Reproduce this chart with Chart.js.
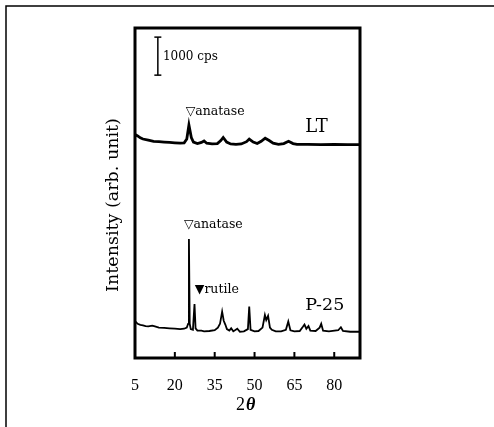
<!DOCTYPE html>
<html>
<head>
<meta charset="utf-8">
<script src="https://cdn.jsdelivr.net/npm/chart.js@4/dist/chart.umd.min.js"></script>
<style>
  html, body { margin: 0; padding: 0; background: #fff; }
  #wrap { width: 494px; height: 427px; }
</style>
</head>
<body>
<div id="wrap"><canvas id="xrd"></canvas></div>
<script>
// 2-theta (deg) and counts (cps)
const ltAngle = [5.2, 6, 7, 8, 10, 12, 14, 16, 18, 20, 22, 23.5, 24.5, 25.3, 26.2, 27, 28.5, 30, 31, 32, 34, 36, 37.3, 38.2, 39.5, 41, 43, 45, 47, 48, 49.5, 51, 52.5, 54, 55.5, 57, 59, 61, 62.8, 64.5, 66, 70, 75, 80, 85, 89.7];
const ltCps = [5870, 5840, 5790, 5760, 5730, 5700, 5690, 5680, 5670, 5660, 5650, 5660, 5760, 6130, 5800, 5680, 5640, 5670, 5710, 5650, 5630, 5640, 5720, 5800, 5680, 5630, 5620, 5630, 5690, 5760, 5680, 5640, 5700, 5780, 5720, 5650, 5620, 5640, 5700, 5640, 5620, 5620, 5610, 5620, 5610, 5610];

const p25Angle = [5.2, 6, 7, 8, 9, 10, 11.5, 12.5, 14, 16, 18, 20, 22, 23.5, 24.5, 25, 25.3, 25.6, 26, 26.8, 27.4, 27.8, 28.5, 30, 31, 33, 35, 36.2, 37, 37.8, 38.4, 39, 39.6, 40.5, 41.2, 42, 43.5, 44.5, 46, 47.5, 48, 48.5, 50, 51.5, 53, 53.9, 54.4, 55.1, 55.8, 56.5, 58, 60, 61.8, 62.7, 63.5, 65, 67, 68.2, 68.8, 69.5, 70.3, 71, 73, 74.5, 75.1, 75.8, 78, 81.5, 82.5, 83.3, 86, 89.7];
const p25Cps = [960, 900, 870, 860, 840, 830, 850, 830, 800, 790, 780, 770, 760, 770, 800, 900, 3130, 900, 760, 740, 1420, 780, 720, 720, 700, 710, 730, 800, 900, 1220, 980, 880, 760, 720, 780, 700, 770, 690, 700, 760, 1350, 740, 700, 710, 800, 1130, 1000, 1110, 800, 740, 700, 700, 740, 960, 730, 700, 710, 820, 880, 770, 840, 720, 710, 800, 900, 720, 700, 730, 810, 710, 690, 690];

const xTickValues = [5, 20, 35, 50, 65, 80];
const scaleBarAngle = 13.6;
const scaleBarCps = [7440, 8440];

const serif = '"Liberation Serif", serif';
const wideSerif = '"DejaVu Serif", "Liberation Serif", serif';

const pairs = (xs, ys) => xs.map((x, i) => ({ x: x, y: ys[i] }));

const textLabels = [
  { text: "1000 cps", x: 15.5, y: 7920, size: 12 },
  { text: "\u25BDanatase", x: 24.1, y: 6470, size: 12.5 },
  { text: "LT", x: 69.1, y: 6075, size: 18 },
  { text: "\u25BDanatase", x: 23.4, y: 3500, size: 12.5 },
  { text: "\u25BCrutile", x: 27.5, y: 1790, size: 12.5 },
  { text: "P-25", x: 69.1, y: 1395, size: 17.5 },
];

const framePlugin = {
  id: "frame",
  afterDraw(chart) {
    const { ctx, chartArea: a, scales } = chart;
    ctx.save();
    ctx.strokeStyle = "#000";
    ctx.fillStyle = "#000";

    // outer figure border (top and left only)
    ctx.lineWidth = 1.5;
    ctx.beginPath();
    ctx.moveTo(6, 427);
    ctx.lineTo(6, 6);
    ctx.lineTo(494, 6);
    ctx.stroke();

    // plot box
    ctx.lineWidth = 3;
    ctx.strokeRect(a.left, a.top, a.right - a.left, a.bottom - a.top);

    // inward ticks on the bottom axis
    ctx.lineWidth = 2;
    xTickValues.slice(1).forEach((v) => {
      const px = scales.x.getPixelForValue(v);
      ctx.beginPath();
      ctx.moveTo(px, a.bottom);
      ctx.lineTo(px, a.bottom - 6);
      ctx.stroke();
    });

    // in-plot labels
    ctx.textBaseline = "middle";
    ctx.textAlign = "left";
    textLabels.forEach((l) => {
      ctx.font = l.size + "px " + wideSerif;
      ctx.fillText(l.text, scales.x.getPixelForValue(l.x), scales.y.getPixelForValue(l.y));
    });

    // y title
    ctx.save();
    ctx.translate(113, 205);
    ctx.rotate(-Math.PI / 2);
    ctx.textAlign = "center";
    ctx.font = "17.5px " + wideSerif;
    ctx.fillText("Intensity (arb. unit)", 0, 0);
    ctx.restore();

    // x title: 2 theta
    ctx.textAlign = "left";
    ctx.font = "18px " + serif;
    ctx.fillText("2", 236, 405);
    ctx.font = "italic bold 18px " + serif;
    ctx.fillText("\u03B8", 246, 405);

    ctx.restore();
  },
};

new Chart(document.getElementById("xrd"), {
  type: "line",
  data: {
    datasets: [
      {
        label: "LT",
        data: pairs(ltAngle, ltCps),
        borderColor: "#000",
        borderWidth: 2.8,
        pointRadius: 0,
        tension: 0,
      },
      {
        label: "P-25",
        data: pairs(p25Angle, p25Cps),
        borderColor: "#000",
        borderWidth: 1.8,
        pointRadius: 0,
        tension: 0,
      },
      {
        label: "scale",
        data: scaleBarCps.map((c) => ({ x: scaleBarAngle, y: c })),
        borderColor: "#000",
        borderWidth: 1.5,
        pointStyle: "line",
        pointRadius: 3.5,
        pointBorderWidth: 1.5,
        pointBorderColor: "#000",
      },
    ],
  },
  options: {
    responsive: true,
    maintainAspectRatio: false,
    animation: false,
    layout: { padding: { left: 135, right: 134, top: 28, bottom: 0 } },
    plugins: {
      legend: { display: false },
      tooltip: { enabled: false },
    },
    scales: {
      x: {
        type: "linear",
        min: 5,
        max: 89.7,
        grid: { display: false },
        border: { display: false },
        afterBuildTicks: (axis) => {
          axis.ticks = xTickValues.map((v) => ({ value: v }));
        },
        afterFit: (axis) => {
          axis.height = 69;
        },
        ticks: {
          color: "#000",
          padding: 10,
          maxRotation: 0,
          font: { family: serif, size: 16 },
        },
      },
      y: {
        display: false,
        min: 0,
        max: 8680,
      },
    },
  },
  plugins: [framePlugin],
});
</script>
</body>
</html>
